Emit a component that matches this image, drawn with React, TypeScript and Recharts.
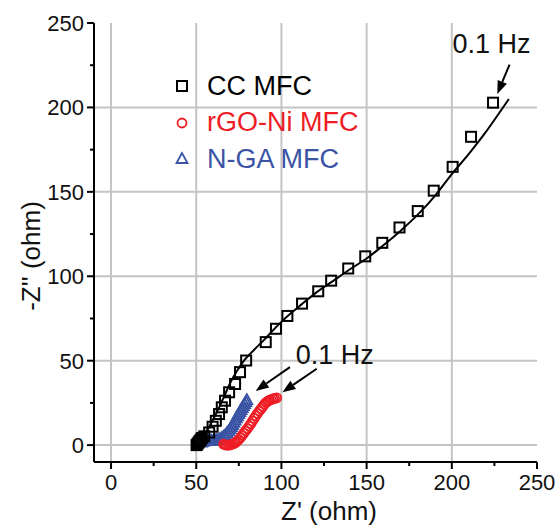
import { ComposedChart, Line, Scatter, XAxis, YAxis, ReferenceLine, ReferenceDot, Legend } from "recharts";

const FONT = "'Liberation Sans', Arial, sans-serif";
const RED = "#ee1c25";
const BLUE = "#3a53a4";

// CC MFC (squares)
const ccX = [50.2, 50.8, 51.4, 52, 52.6, 53.3, 54.7, 57.6, 59.6, 61.5, 63.4, 65, 66.9, 69.3, 72.8, 75.7, 79.3, 90.8, 96.8, 103.5, 112.1, 121.6, 129.2, 139.2, 149.2, 159.2, 169.3, 180, 189.4, 200.5, 211.3, 224.2];
const ccY = [0, 0.8, 1.6, 2.4, 3.2, 4.2, 5.2, 7.5, 10.9, 14.4, 18.4, 22.4, 26.3, 31.3, 36.2, 43.2, 50.1, 61, 68.9, 76.5, 83.8, 91.1, 97.4, 104.6, 111.8, 119.8, 128.9, 138.6, 150.7, 164.8, 182.6, 202.8];

// CC MFC fitted curve
const fitX = [50, 52, 54, 56, 58, 60, 62, 64, 66, 68, 70, 74, 78, 84, 90, 96, 100, 106, 112, 120, 130, 140, 150, 160, 170, 180, 190, 200, 210, 220, 227, 233.5];
const fitY = [0, 2.5, 5, 8, 11.5, 15.5, 19.5, 23.5, 28, 32.5, 37, 44, 50, 56.5, 62.5, 69, 73, 78.5, 83.5, 90, 97, 104, 110.5, 118.5, 127, 136.5, 147.5, 160.5, 172.5, 185.5, 195.5, 205];

// rGO-Ni MFC (circles)
const rgoX = [66, 67, 68, 69, 70, 71, 72, 73, 74, 75, 76, 77, 78, 79, 80, 81, 82, 83, 84, 85, 86, 87, 88, 89, 90, 91, 92, 93, 94, 95, 96, 97.2];
const rgoY = [0.6, 0.2, 0, 0, 0.2, 0.5, 0.9, 1.5, 2.3, 3.3, 4.5, 5.8, 7.1, 8.5, 9.8, 11.2, 12.6, 14.2, 15.8, 17.4, 18.8, 20.2, 21.5, 22.8, 24.2, 25.3, 26, 26.6, 27, 27.4, 27.7, 28];

// N-GA MFC (triangles)
const ngaX = [53, 54, 55, 56, 57, 58, 59, 60, 61, 62, 63, 64, 65, 66, 67, 68, 69, 70, 70.7, 71.4, 72.1, 72.8, 73.5, 74.2, 74.9, 75.6, 76.3, 77, 77.7, 78.4, 79.1, 79.7];
const ngaY = [1.5, 1.9, 2.2, 2.4, 2.5, 2.5, 2.5, 2.5, 2.6, 2.8, 3.1, 3.5, 4.1, 4.9, 5.8, 6.9, 8.1, 9.4, 10.6, 11.9, 13.2, 14.5, 15.8, 17.1, 18.3, 19.5, 20.7, 21.9, 23.1, 24.3, 25.5, 26.6];

const ticks = [0, 25, 50, 75, 100, 125, 150, 175, 200, 225, 250];
const gridValues = [0, 50, 100, 150, 200];

const zip = (xs: number[], ys: number[]) => xs.map((x, i) => ({ x, y: ys[i] }));
const ccData = zip(ccX, ccY);
const fitData = zip(fitX, fitY);
const rgoData = zip(rgoX, rgoY);
const ngaData = zip(ngaX, ngaY);

const Square = ({ cx, cy }: any) => (
  <rect x={cx - 5} y={cy - 5} width={10} height={10} fill="none" stroke="#000" strokeWidth={2} />
);
const Circle = ({ cx, cy }: any) => (
  <circle cx={cx} cy={cy} r={4.5} fill="none" stroke={RED} strokeWidth={1.8} />
);
const Triangle = ({ cx, cy }: any) => (
  <polygon
    points={`${cx},${cy - 6} ${cx - 5.5},${cy + 4} ${cx + 5.5},${cy + 4}`}
    fill="none"
    stroke={BLUE}
    strokeWidth={1.8}
  />
);

const XTick = ({ x, y, payload }: any) => {
  const major = payload.value % 50 === 0;
  return (
    <g>
      <line x1={x} x2={x} y1={y} y2={y + (major ? 7 : 4)} stroke="#000" strokeWidth={2} />
      {major && (
        <text x={x} y={y + 28} textAnchor="middle" fontSize={22} fontFamily={FONT} fill="#111">
          {payload.value}
        </text>
      )}
    </g>
  );
};

const YTick = ({ x, y, payload }: any) => {
  const major = payload.value % 50 === 0;
  return (
    <g>
      <line x1={x} x2={x - (major ? 7 : 4)} y1={y} y2={y} stroke="#000" strokeWidth={2} />
      {major && (
        <text x={x - 10} y={y + 8} textAnchor="end" fontSize={22} fontFamily={FONT} fill="#111">
          {payload.value}
        </text>
      )}
    </g>
  );
};

const Arrow = (p: any) => {
  const { x1, y1, x2, y2 } = p;
  const dx = x2 - x1;
  const dy = y2 - y1;
  const len = Math.sqrt(dx * dx + dy * dy);
  const ux = dx / len;
  const uy = dy / len;
  const hl = 13;
  const hw = 5;
  const bx = x2 - ux * hl;
  const by = y2 - uy * hl;
  return (
    <g>
      <line x1={x1} y1={y1} x2={bx} y2={by} stroke="#000" strokeWidth={2} />
      <polygon
        points={`${x2},${y2} ${bx - uy * hw},${by + ux * hw} ${bx + uy * hw},${by - ux * hw}`}
        fill="#000"
      />
    </g>
  );
};

const HzLabel = ({ cx, cy }: any) => (
  <text x={cx} y={cy + 9} fontSize={27} fontFamily={FONT} fill="#111">
    0.1 Hz
  </text>
);

const legendItems = [
  { label: "CC MFC", color: "#000", Marker: Square },
  { label: "rGO-Ni MFC", color: RED, Marker: Circle },
  { label: "N-GA MFC", color: BLUE, Marker: Triangle },
];

const renderLegend = () => (
  <div style={{ fontFamily: FONT, fontSize: 27 }}>
    {legendItems.map(({ label, color, Marker }) => (
      <div key={label} style={{ display: "flex", alignItems: "center", height: 36.5 }}>
        <svg width={18} height={18} style={{ display: "block" }}>
          <Marker cx={9} cy={9} />
        </svg>
        <span style={{ color, marginLeft: 16, whiteSpace: "nowrap" }}>{label}</span>
      </div>
    ))}
  </div>
);

export default function App() {
  return (
    <div style={{ position: "absolute", left: 0, top: 0, width: 557, height: 525, background: "#fff" }}>
      <ComposedChart width={557} height={525} margin={{ top: 23, right: 20, bottom: 0, left: 0 }}>
        {gridValues.map((v) => (
          <ReferenceLine key={"gx" + v} x={v} stroke="#c4c4c4" strokeWidth={2} />
        ))}
        {gridValues.map((v) => (
          <ReferenceLine key={"gy" + v} y={v} stroke="#c4c4c4" strokeWidth={2} />
        ))}
        <XAxis
          type="number"
          dataKey="x"
          domain={[-10, 250]}
          ticks={ticks}
          interval={0}
          allowDataOverflow
          height={63}
          tickSize={0}
          tickMargin={0}
          tickLine={false}
          tick={<XTick />}
          axisLine={{ stroke: "#000", strokeWidth: 2 }}
        />
        <YAxis
          type="number"
          dataKey="y"
          domain={[-10, 250]}
          ticks={ticks}
          interval={0}
          allowDataOverflow
          width={94}
          tickSize={0}
          tickMargin={0}
          tickLine={false}
          tick={<YTick />}
          axisLine={{ stroke: "#000", strokeWidth: 2 }}
        />
        <XAxis
          xAxisId="top"
          orientation="top"
          type="number"
          domain={[-10, 250]}
          height={0}
          tick={false}
          tickLine={false}
          axisLine={{ stroke: "#000", strokeWidth: 2 }}
        />
        <YAxis
          yAxisId="right"
          orientation="right"
          type="number"
          domain={[-10, 250]}
          width={0}
          tick={false}
          tickLine={false}
          axisLine={{ stroke: "#000", strokeWidth: 2 }}
        />
        <Line
          data={fitData}
          dataKey="y"
          type="monotone"
          stroke="#000"
          strokeWidth={2}
          dot={false}
          isAnimationActive={false}
          legendType="none"
        />
        <Scatter data={ngaData} dataKey="y" shape={<Triangle />} isAnimationActive={false} />
        <Scatter data={rgoData} dataKey="y" shape={<Circle />} isAnimationActive={false} />
        <Scatter data={ccData} dataKey="y" shape={<Square />} isAnimationActive={false} />
        <ReferenceLine segment={[{ x: 233.9, y: 225.4 }, { x: 226.7, y: 208 }]} shape={<Arrow />} ifOverflow="visible" />
        <ReferenceLine segment={[{ x: 105, y: 46.2 }, { x: 84.9, y: 32.1 }]} shape={<Arrow />} ifOverflow="visible" />
        <ReferenceLine segment={[{ x: 120.7, y: 45.2 }, { x: 100.6, y: 31.3 }]} shape={<Arrow />} ifOverflow="visible" />
        <ReferenceDot x={200.4} y={237.7} r={0} shape={<HzLabel />} ifOverflow="visible" />
        <ReferenceDot x={108.4} y={53.5} r={0} shape={<HzLabel />} ifOverflow="visible" />
        <Legend
          layout="vertical"
          align="center"
          verticalAlign="middle"
          content={renderLegend}
          wrapperStyle={{ left: 173, top: 68, width: "auto", height: "auto" }}
        />
      </ComposedChart>
      <div
        style={{
          position: "absolute",
          left: 0,
          top: 496,
          width: 658,
          textAlign: "center",
          fontFamily: FONT,
          fontSize: 26,
          color: "#111",
          lineHeight: "30px",
        }}
      >
        Z' (ohm)
      </div>
      <div
        style={{
          position: "absolute",
          left: 31 - 100,
          top: 256 - 15,
          width: 200,
          textAlign: "center",
          fontFamily: FONT,
          fontSize: 26,
          color: "#111",
          lineHeight: "30px",
          transform: "rotate(-90deg)",
        }}
      >
        -Z'' (ohm)
      </div>
    </div>
  );
}
